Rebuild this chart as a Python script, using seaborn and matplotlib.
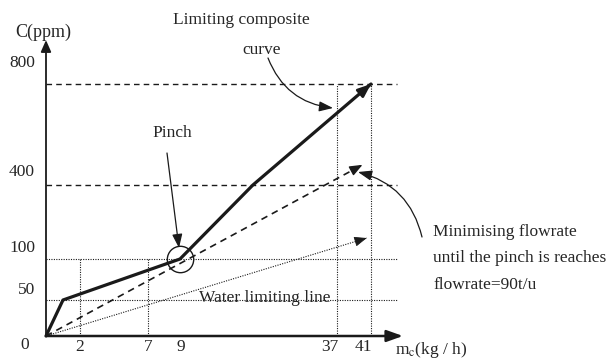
import numpy as np
import pandas as pd
import matplotlib
matplotlib.use("Agg")
import matplotlib.pyplot as plt
import seaborn as sns

# values (x = mc in kg/h, c = ppm)
composite_x = [0, 1, 9, 22, 41]
composite_c = [0, 50, 100, 400, 800]
min_flow_x = [0, 40]
min_flow_c = [0, 480]
water_x = [0, 40.5]
water_c = [0, 185]

x_ticks = [0, 2, 7, 9, 37, 41]
y_ticks = [0, 50, 100, 400, 800]

guide_x = [2, 7, 37, 41]          # dotted verticals
guide_x_top = [100, 100, 800, 800]
dotted_c = [50, 100]
dashed_c = [400, 800]
guide_end = 44

# the sketch axes are not to scale: piecewise mapping value -> pixel offset
x_anchor = [-10, 0, 2, 7, 9, 37, 41, 60]
x_pos = [-170, 0, 34, 102, 134, 291, 325, 486.5]
y_anchor = [-100, 0, 50, 100, 400, 800, 1200]
y_pos = [-72, 0, 36, 77, 151, 252, 353]

fx = (lambda v: np.interp(v, x_anchor, x_pos), lambda p: np.interp(p, x_pos, x_anchor))
fy = (lambda v: np.interp(v, y_anchor, y_pos), lambda p: np.interp(p, y_pos, y_anchor))

sns.set_theme(style="white")
plt.rcParams["font.family"] = ["Liberation Serif", "DejaVu Serif"]
plt.rcParams["mathtext.fontset"] = "stix"
FS = 12.5

W, H = 616, 360
fig = plt.figure(figsize=(W / 100, H / 100), dpi=100)
# origin sits at pixel (46, 336)
ax = fig.add_axes([26 / W, 16 / H, 384 / W, 308 / H])
ax.set_xscale("function", functions=fx)
ax.set_yscale("function", functions=fy)
ax.set_xlim(fx[1](-20), fx[1](364))
ax.set_ylim(fy[1](-8), fy[1](300))
for s in ax.spines.values():
    s.set_visible(False)
ax.set_xticks([])
ax.set_yticks([])
ax.set_xlabel("")
ax.set_ylabel("")

# guide lines
ax.vlines(guide_x, 0, guide_x_top, colors="k", linestyles=(0, (1, 1.2)), lw=0.8)
ax.hlines(dotted_c, 0, guide_end, colors="k", linestyles=(0, (1, 1.2)), lw=0.8)
ax.hlines(dashed_c, 0, guide_end, colors="k", linestyles=(0, (4, 3)), lw=1.0)

# curves
sns.lineplot(x=composite_x, y=composite_c, ax=ax, color="k", lw=2.3, sort=False)
sns.lineplot(x=min_flow_x, y=min_flow_c, ax=ax, color="k", lw=1.2, sort=False,
             linestyle=(0, (4, 3)))
sns.lineplot(x=water_x, y=water_c, ax=ax, color="k", lw=0.8, sort=False,
             linestyle=(0, (1, 1.2)))


def head(xs, ys, lw):
    p0 = ax.transData.transform((xs[-2], ys[-2]))
    p1 = ax.transData.transform((xs[-1], ys[-1]))
    d = (p1 - p0) / np.hypot(*(p1 - p0))
    ax.annotate("", xy=(xs[-1], ys[-1]), xytext=tuple(-d * 11), textcoords="offset pixels",
                arrowprops=dict(arrowstyle="-|>,head_length=0.55,head_width=0.22",
                                color="k", lw=lw, shrinkA=0, shrinkB=0, mutation_scale=14))


head(composite_x, composite_c, 2.0)
head(min_flow_x, min_flow_c, 1.0)
head(water_x, water_c, 0.6)

# axes with arrows
ax.annotate("", xy=(44.76, 0), xytext=(0, 0),
            arrowprops=dict(arrowstyle="-|>,head_length=0.7,head_width=0.25", color="k",
                            lw=1.8, shrinkA=0, shrinkB=0, mutation_scale=14))
ax.annotate("", xy=(0, 974), xytext=(0, 0),
            arrowprops=dict(arrowstyle="-|>,head_length=0.5,head_width=0.22", color="k",
                            lw=1.3, shrinkA=0, shrinkB=0, mutation_scale=14))

# pinch circle
ax.plot([9], [100], marker="o", ms=19, mfc="none", mec="k", mew=1.0)

# tick labels
x_label_dx = [0, 0, 0, 1, -7, -8]
for v, dx in zip(x_ticks[1:], x_label_dx[1:]):
    ax.annotate(str(v), xy=(v, 0), xytext=(dx, -11), textcoords="offset pixels",
                ha="center", va="center", fontsize=FS)
y_label_dy = [10, 11, 13, 21]
for v, dy in zip(y_ticks[1:], y_label_dy):
    ax.annotate(str(v), xy=(0, v), xytext=(-11, dy), textcoords="offset pixels",
                ha="right", va="center", fontsize=FS)


def px(x, y):
    return (x, H - y)


ax.annotate("0", xy=px(25, 345), xycoords="figure pixels", ha="center", va="center", fontsize=FS)
ax.annotate("C(ppm)", xy=px(43, 32), xycoords="figure pixels", ha="center", va="center", fontsize=FS + 0.5)
ax.annotate(r"m$_{\mathrm{c}}$(kg / h)", xy=px(395, 350), xycoords="figure pixels",
            ha="left", va="center", fontsize=FS)

ax.annotate("Limiting composite", xy=px(241, 20), xycoords="figure pixels", ha="center", va="center", fontsize=FS)
ax.annotate("curve", xy=px(262, 50), xycoords="figure pixels", ha="center", va="center", fontsize=FS)
ax.annotate("", xy=px(333, 108), xycoords="figure pixels", xytext=px(268, 58), textcoords="figure pixels",
            arrowprops=dict(arrowstyle="-|>,head_length=0.6,head_width=0.22", color="k", lw=0.9,
                            connectionstyle="arc3,rad=0.3", mutation_scale=14, shrinkA=0, shrinkB=0))

ax.annotate("Pinch", xy=px(172, 133), xycoords="figure pixels", ha="center", va="center", fontsize=FS)
ax.annotate("", xy=px(179, 248), xycoords="figure pixels", xytext=px(167, 153), textcoords="figure pixels",
            arrowprops=dict(arrowstyle="-|>,head_length=0.6,head_width=0.22", color="k", lw=0.9,
                            mutation_scale=14, shrinkA=0, shrinkB=0))

ax.annotate("Water limiting line", xy=px(265, 298), xycoords="figure pixels", ha="center", va="center", fontsize=FS)

for i, line in enumerate(["Minimising flowrate", "until the pinch is reaches", "flowrate=90t/u"]):
    ax.annotate(line, xy=px(433, 232 + 26.5 * i), xycoords="figure pixels", ha="left", va="center", fontsize=FS)
ax.annotate("", xy=px(358, 172), xycoords="figure pixels", xytext=px(422, 237), textcoords="figure pixels",
            arrowprops=dict(arrowstyle="-|>,head_length=0.6,head_width=0.22", color="k", lw=0.9,
                            connectionstyle="arc3,rad=0.3", mutation_scale=14, shrinkA=0, shrinkB=0))

fig.savefig("out.png", dpi=100)
